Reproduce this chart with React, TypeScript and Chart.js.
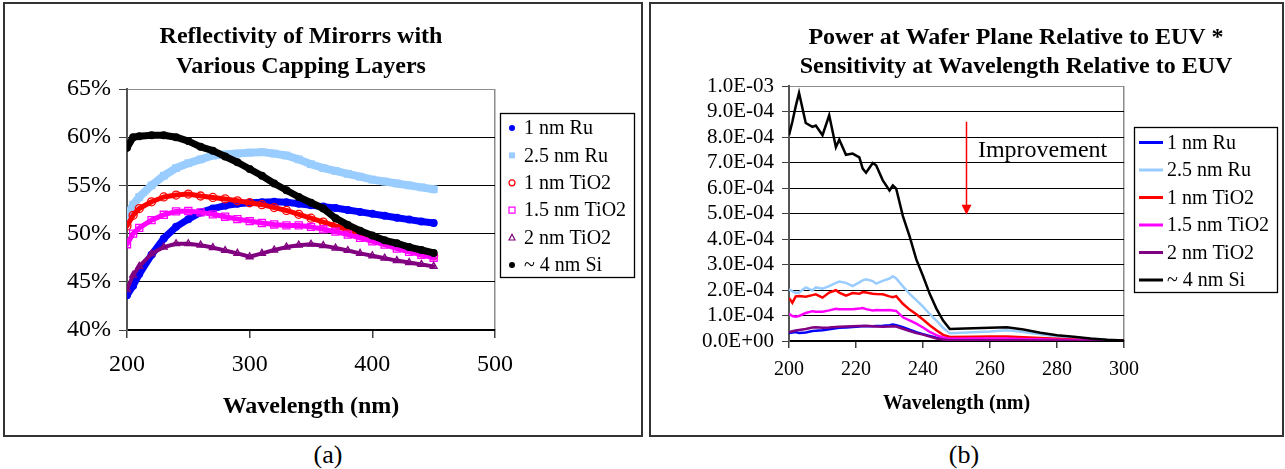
import React, { useEffect, useRef } from "react";
import { Chart, registerables } from "chart.js";

Chart.register(...registerables);

const FONT = "'Liberation Serif', 'Times New Roman', Times, serif";

// ---------- Panel (a): reflectivity (%) vs wavelength (nm) ----------
const A_WL = [200, 205, 210, 220, 230, 240, 250, 260, 270, 280, 290, 300, 310, 320, 330, 340, 350, 360, 370, 380, 390, 400, 410, 420, 430, 440, 450];
const A_RU1 = [43.6, 44.6, 45.8, 47.8, 49.5, 50.7, 51.5, 52.2, 52.6, 52.9, 53.1, 53.2, 53.25, 53.3, 53.25, 53.1, 52.95, 52.8, 52.65, 52.45, 52.25, 52.05, 51.85, 51.65, 51.45, 51.25, 51.1];
const A_RU25 = [51.8, 53.0, 53.8, 55.0, 56.0, 56.8, 57.3, 57.7, 58.1, 58.2, 58.3, 58.4, 58.45, 58.3, 58.1, 57.7, 57.2, 56.8, 56.5, 56.2, 55.9, 55.6, 55.4, 55.2, 55.0, 54.8, 54.6];
const A_TIO2_1 = [50.8, 51.9, 52.6, 53.3, 53.8, 54.0, 54.1, 53.9, 53.75, 53.6, 53.4, 53.2, 53.0, 52.7, 52.4, 52.0, 51.6, 51.2, 50.8, 50.4, 49.9, 49.5, 49.1, 48.8, 48.4, 48.0, 47.7];
const A_TIO2_15 = [48.9, 50.0, 50.6, 51.4, 51.95, 52.3, 52.35, 52.2, 52.0, 51.75, 51.5, 51.3, 51.1, 50.95, 50.85, 50.85, 50.7, 50.45, 50.2, 49.9, 49.55, 49.2, 48.85, 48.45, 48.1, 47.8, 47.5];
const A_TIO2_2 = [44.2, 45.7, 46.6, 47.9, 48.6, 48.95, 48.95, 48.8, 48.55, 48.25, 47.95, 47.6, 47.95, 48.3, 48.6, 48.8, 48.9, 48.75, 48.5, 48.25, 47.95, 47.7, 47.45, 47.2, 47.0, 46.8, 46.6];
const A_SI4 = [58.9, 60.0, 60.1, 60.2, 60.2, 60.0, 59.6, 59.0, 58.6, 58.0, 57.4, 56.7, 56.0, 55.2, 54.5, 53.8, 53.2, 52.6, 51.6, 50.9, 50.3, 49.8, 49.3, 49.0, 48.6, 48.3, 48.0];

// ---------- Panel (b): relative power * sensitivity (units of 1e-4) ----------
const B_WL = [200, 201, 202, 203, 205, 207, 208, 210, 212, 214, 215, 217, 219, 221, 222, 223, 225, 226, 228, 230, 231, 232, 234, 236, 238, 240, 242, 244, 246, 248, 255, 260, 265, 270, 275, 280, 285, 290, 295, 300];
const B_RU1 = [0.31, 0.33, 0.35, 0.31, 0.33, 0.39, 0.4, 0.42, 0.46, 0.5, 0.52, 0.53, 0.55, 0.57, 0.59, 0.58, 0.58, 0.59, 0.6, 0.62, 0.65, 0.62, 0.54, 0.44, 0.35, 0.27, 0.2, 0.13, 0.08, 0.05, 0.06, 0.07, 0.07, 0.06, 0.05, 0.04, 0.03, 0.02, 0.01, 0.005];
const B_RU25 = [2.03, 1.95, 1.88, 1.9, 2.1, 1.98, 2.1, 2.05, 2.15, 2.28, 2.33, 2.28, 2.15, 2.3, 2.38, 2.42, 2.35, 2.25, 2.36, 2.45, 2.54, 2.45, 2.14, 1.85, 1.6, 1.35, 1.06, 0.8, 0.52, 0.3, 0.34, 0.37, 0.42, 0.35, 0.26, 0.18, 0.12, 0.08, 0.04, 0.01];
const B_TIO2_1 = [1.69, 1.5, 1.75, 1.76, 1.74, 1.8, 1.83, 1.7, 1.9, 1.99, 1.9, 1.78, 1.88, 1.85, 1.92, 1.9, 1.85, 1.84, 1.83, 1.75, 1.72, 1.76, 1.46, 1.23, 1.05, 0.84, 0.62, 0.42, 0.24, 0.16, 0.17, 0.18, 0.18, 0.15, 0.12, 0.09, 0.06, 0.04, 0.02, 0.01];
const B_TIO2_15 = [1.07, 0.98, 0.95, 0.98, 1.1, 1.17, 1.15, 1.15, 1.2, 1.26, 1.25, 1.25, 1.25, 1.27, 1.29, 1.25, 1.2, 1.22, 1.21, 1.22, 1.2, 1.18, 0.93, 0.81, 0.68, 0.53, 0.36, 0.23, 0.14, 0.09, 0.1, 0.1, 0.1, 0.08, 0.07, 0.05, 0.04, 0.02, 0.01, 0.005];
const B_TIO2_2 = [0.35, 0.38, 0.41, 0.43, 0.47, 0.53, 0.54, 0.52, 0.53, 0.55, 0.56, 0.57, 0.58, 0.59, 0.59, 0.6, 0.58, 0.57, 0.56, 0.57, 0.58, 0.57, 0.48, 0.39, 0.31, 0.25, 0.17, 0.1, 0.06, 0.03, 0.03, 0.03, 0.03, 0.03, 0.02, 0.02, 0.01, 0.01, 0.005, 0.0];
const B_SI4 = [8.07, 8.6, 9.2, 9.73, 8.55, 8.4, 8.45, 8.07, 8.85, 7.6, 7.9, 7.3, 7.35, 7.2, 6.76, 6.6, 6.98, 6.89, 6.3, 5.9, 6.1, 5.97, 4.9, 4.1, 3.2, 2.55, 1.85, 1.27, 0.8, 0.47, 0.5, 0.52, 0.54, 0.45, 0.32, 0.23, 0.17, 0.1, 0.05, 0.02];

const LABELS = ["1 nm Ru", "2.5 nm Ru", "1 nm TiO2", "1.5 nm TiO2", "2 nm TiO2", "~ 4 nm Si"];
const COLORS = ["#0000FF", "#99CCFF", "#FF0000", "#FF00FF", "#800080", "#000000"];

const A_TITLE = ["Reflectivity of Mirorrs with", "Various Capping Layers"];
const B_TITLE = ["Power at Wafer Plane Relative to EUV *", "Sensitivity at Wavelength Relative to EUV"];
const X_TITLE = "Wavelength (nm)";
const ANNOT_TEXT = "Improvement";
const ARROW_X = 252.8;
const ARROW_Y_TOP = 8.6;
const ARROW_Y_BOTTOM = 4.95;
const ANNOT_X = 256.4;
const ANNOT_Y = 7.45;

function fmtSci(v: number): string {
  const val = v * 1e-4;
  const [m, e] = val.toExponential(1).split("e");
  const n = parseInt(e, 10);
  return `${m}E${n < 0 ? "-" : "+"}${String(Math.abs(n)).padStart(2, "0")}`;
}

function drawMarker(ctx: CanvasRenderingContext2D, style: string, x: number, y: number, r: number, color: string, filled: boolean) {
  ctx.beginPath();
  if (style === "rect") {
    ctx.rect(x - r, y - r, 2 * r, 2 * r);
  } else if (style === "triangle") {
    ctx.moveTo(x, y - r * 1.1);
    ctx.lineTo(x + r, y + r * 0.8);
    ctx.lineTo(x - r, y + r * 0.8);
    ctx.closePath();
  } else {
    ctx.arc(x, y, r, 0, Math.PI * 2);
  }
  if (filled) {
    ctx.fillStyle = color;
    ctx.fill();
  } else {
    ctx.strokeStyle = color;
    ctx.lineWidth = 1.2;
    ctx.stroke();
  }
}

const decorPlugin = {
  id: "decor",
  afterDraw(chart: any, _args: any, opts: any) {
    const ctx: CanvasRenderingContext2D = chart.ctx;
    ctx.save();
    ctx.fillStyle = "#000";
    ctx.textAlign = "center";
    ctx.textBaseline = "middle";
    ctx.font = `bold ${opts.titleSize}px ${FONT}`;
    opts.title.forEach((t: string, i: number) => ctx.fillText(t, opts.titleX, opts.titleY + i * opts.titleGap));

    const L = opts.legend;
    ctx.fillStyle = "#fff";
    ctx.fillRect(L.x, L.y, L.w, L.h);
    ctx.strokeStyle = "#000";
    ctx.lineWidth = 1.3;
    ctx.strokeRect(L.x + 0.5, L.y + 0.5, L.w, L.h);
    ctx.font = `${L.size}px ${FONT}`;
    ctx.textAlign = "left";
    ctx.textBaseline = "middle";
    chart.data.datasets.forEach((ds: any, i: number) => {
      const y = L.rowY + i * L.rowGap;
      if (L.kind === "line") {
        ctx.strokeStyle = ds.borderColor;
        ctx.lineWidth = 3;
        ctx.beginPath();
        ctx.moveTo(L.lineX1, y);
        ctx.lineTo(L.lineX2, y);
        ctx.stroke();
      } else {
        const m = L.markers[i];
        drawMarker(ctx, m.style, L.markerX, y, m.r, ds.borderColor, m.filled);
      }
      ctx.fillStyle = "#000";
      ctx.fillText(ds.label, L.textX, y + 1);
    });

    if (opts.arrow) {
      const xs = chart.scales.x;
      const ys = chart.scales.y;
      const ax = Math.round(xs.getPixelForValue(ARROW_X)) + 0.5;
      const y1 = ys.getPixelForValue(ARROW_Y_TOP);
      const y2 = ys.getPixelForValue(ARROW_Y_BOTTOM);
      ctx.strokeStyle = "#FF0000";
      ctx.fillStyle = "#FF0000";
      ctx.lineWidth = 1.5;
      ctx.beginPath();
      ctx.moveTo(ax, y1);
      ctx.lineTo(ax, y2 - 8);
      ctx.stroke();
      ctx.beginPath();
      ctx.moveTo(ax - 5, y2 - 10);
      ctx.lineTo(ax + 5, y2 - 10);
      ctx.lineTo(ax, y2);
      ctx.closePath();
      ctx.fill();
      ctx.fillStyle = "#000";
      ctx.font = `24px ${FONT}`;
      ctx.textAlign = "left";
      ctx.textBaseline = "middle";
      ctx.fillText(ANNOT_TEXT, xs.getPixelForValue(ANNOT_X), ys.getPixelForValue(ANNOT_Y));
    }
    ctx.restore();
  },
};

function pts(xs: number[], ys: number[]) {
  return xs.map((x, i) => ({ x, y: ys[i] }));
}

function configA(): any {
  const series = [A_RU1, A_RU25, A_TIO2_1, A_TIO2_15, A_TIO2_2, A_SI4];
  const styles = [
    { style: "circle", r: 4, filled: true, lw: 7 },
    { style: "rect", r: 5.5, filled: true, lw: 8 },
    { style: "circle", r: 4, filled: false, lw: 5 },
    { style: "rect", r: 5, filled: false, lw: 5 },
    { style: "triangle", r: 4, filled: false, lw: 4 },
    { style: "circle", r: 4, filled: true, lw: 7 },
  ];
  const orders = [5, 4, 3, 2, 1, 0];
  return {
    type: "scatter",
    data: {
      datasets: series.map((s, i) => ({
        label: LABELS[i],
        data: pts(A_WL, s),
        showLine: true,
        borderColor: COLORS[i],
        backgroundColor: COLORS[i],
        borderWidth: styles[i].lw,
        borderJoinStyle: "round",
        borderCapStyle: "round",
        pointStyle: styles[i].style,
        pointRadius: styles[i].r,
        pointBorderWidth: styles[i].filled ? 0 : 1.3,
        pointBorderColor: COLORS[i],
        pointBackgroundColor: styles[i].filled ? COLORS[i] : "rgba(255,255,255,0)",
        order: orders[i],
      })),
    },
    options: {
      responsive: false,
      animation: false,
      events: [],
      layout: { padding: { top: 85, right: 146, left: 0, bottom: 0 } },
      scales: {
        x: {
          type: "linear",
          min: 200,
          max: 500,
          afterFit: (s: any) => { s.height = 105; },
          ticks: { stepSize: 100, color: "#000", font: { family: FONT, size: 24 }, padding: 12 },
          grid: {
            color: (c: any) => (c.tick && c.tick.value === 500 ? "#8c8c8c" : "rgba(0,0,0,0)"),
            tickColor: "#404040",
            tickLength: 8,
            lineWidth: 1.5,
          },
          border: { color: "#000", width: 1.5 },
          title: { display: true, text: X_TITLE, color: "#000", font: { family: FONT, size: 24, weight: "bold" }, padding: { top: 0, bottom: 14 } },
        },
        y: {
          min: 40,
          max: 65,
          afterFit: (s: any) => { s.width = 122; },
          ticks: { stepSize: 5, autoSkip: false, color: "#000", font: { family: FONT, size: 24 }, padding: 8, callback: (v: number) => `${v}%` },
          grid: {
            color: (c: any) => (c.tick && c.tick.value === 65 ? "#8c8c8c" : "#000"),
            tickColor: "#404040",
            tickLength: 8,
            lineWidth: 1,
          },
          border: { color: "#555", width: 2 },
        },
      },
      plugins: {
        legend: { display: false },
        tooltip: { enabled: false },
        decor: {
          title: A_TITLE,
          titleSize: 24,
          titleX: 296,
          titleY: 33,
          titleGap: 30,
          legend: {
            kind: "point",
            x: 495, y: 109, w: 134, h: 164,
            size: 20,
            rowY: 124, rowGap: 27.4,
            markerX: 507, textX: 519,
            markers: [
              { style: "circle", r: 3, filled: true },
              { style: "rect", r: 3, filled: true },
              { style: "circle", r: 3, filled: false },
              { style: "rect", r: 3, filled: false },
              { style: "triangle", r: 3, filled: false },
              { style: "circle", r: 3, filled: true },
            ],
          },
          arrow: false,
        },
      },
    },
    plugins: [decorPlugin],
  };
}

function configB(): any {
  const series = [B_RU1, B_RU25, B_TIO2_1, B_TIO2_15, B_TIO2_2, B_SI4];
  const orders = [5, 4, 3, 2, 1, 0];
  return {
    type: "scatter",
    data: {
      datasets: series.map((s, i) => ({
        label: LABELS[i],
        data: pts(B_WL, s),
        showLine: true,
        borderColor: COLORS[i],
        backgroundColor: COLORS[i],
        borderWidth: 2.5,
        pointRadius: 0,
        tension: 0,
        order: orders[i],
      })),
    },
    options: {
      responsive: false,
      animation: false,
      events: [],
      layout: { padding: { top: 82, right: 158, left: 0, bottom: 0 } },
      scales: {
        x: {
          type: "linear",
          min: 200,
          max: 300,
          afterFit: (s: any) => { s.height = 94; },
          ticks: { stepSize: 20, color: "#000", font: { family: FONT, size: 20 }, padding: 10 },
          grid: {
            color: (c: any) => (c.tick && c.tick.value === 300 ? "#8c8c8c" : "rgba(0,0,0,0)"),
            tickColor: "#404040",
            tickLength: 7,
            lineWidth: 1.5,
          },
          border: { color: "#000", width: 1.5 },
          title: { display: true, text: X_TITLE, color: "#000", font: { family: FONT, size: 20, weight: "bold" }, padding: { top: 0, bottom: 19 } },
        },
        y: {
          min: 0,
          max: 10,
          afterFit: (s: any) => { s.width = 138; },
          ticks: { stepSize: 1, autoSkip: false, color: "#000", font: { family: FONT, size: 21 }, padding: 8, callback: (v: number) => fmtSci(v) },
          grid: {
            color: (c: any) => (c.tick && c.tick.value === 10 ? "#8c8c8c" : "#000"),
            tickColor: "#404040",
            tickLength: 7,
            lineWidth: 1,
          },
          border: { color: "#555", width: 2 },
        },
      },
      plugins: {
        legend: { display: false },
        tooltip: { enabled: false },
        decor: {
          title: B_TITLE,
          titleSize: 24,
          titleX: 365,
          titleY: 34,
          titleGap: 29,
          legend: {
            kind: "line",
            x: 483, y: 123, w: 143, h: 165,
            size: 20,
            rowY: 138.5, rowGap: 27.5,
            lineX1: 488, lineX2: 512, textX: 516,
          },
          arrow: true,
        },
      },
    },
    plugins: [decorPlugin],
  };
}

function ChartCanvas({ make, width, height }: { make: () => any; width: number; height: number }) {
  const ref = useRef<HTMLCanvasElement | null>(null);
  useEffect(() => {
    if (!ref.current) return;
    const chart = new Chart(ref.current, make());
    return () => chart.destroy();
  }, [make]);
  return <canvas ref={ref} width={width} height={height} style={{ display: "block", width, height }} />;
}

const boxStyle = (left: number, width: number): React.CSSProperties => ({
  position: "absolute",
  left,
  top: 2,
  width,
  height: 435,
  border: "2px solid #333",
  boxSizing: "border-box",
  background: "#fff",
  overflow: "hidden",
});

const captionStyle = (cx: number): React.CSSProperties => ({
  position: "absolute",
  left: cx - 40,
  width: 80,
  top: 440,
  textAlign: "center",
  fontFamily: FONT,
  fontSize: 26,
  lineHeight: "30px",
  color: "#000",
});

export default function App() {
  return (
    <div style={{ position: "absolute", left: 0, top: 0, width: 1285, height: 469, background: "#fff", overflow: "hidden" }}>
      <div style={boxStyle(3, 640)}>
        <ChartCanvas make={configA} width={636} height={431} />
      </div>
      <div style={boxStyle(649, 635)}>
        <ChartCanvas make={configB} width={631} height={431} />
      </div>
      <div style={captionStyle(328)}>(a)</div>
      <div style={captionStyle(964)}>(b)</div>
    </div>
  );
}
